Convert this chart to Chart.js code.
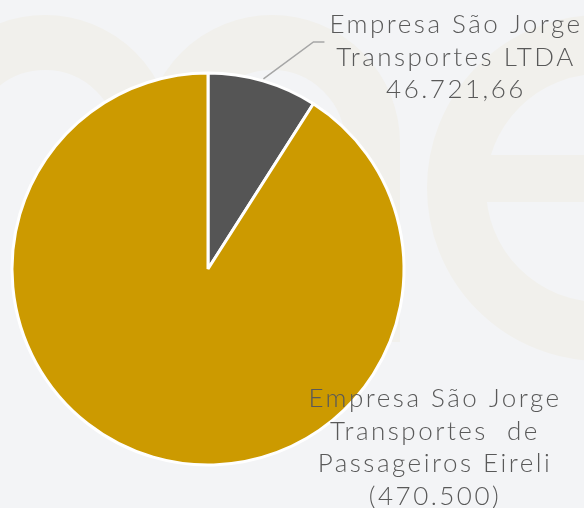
<!DOCTYPE html>
<html>
<head>
<meta charset="utf-8">
<script src="https://cdn.jsdelivr.net/npm/chart.js@4"></script>
<style>
  html, body { margin: 0; padding: 0; background: #f3f4f6; }
  #wrap { width: 584px; height: 508px; position: relative; }
</style>
</head>
<body>
<div id="wrap"><canvas id="c" width="584" height="508"></canvas></div>
<script>
// ---- data ----
const categories = [
  ["Empresa São Jorge", "Transportes LTDA"],
  ["Empresa São Jorge", "Transportes  de", "Passageiros Eireli"]
];
const values = [46721.66, 470500];
const valueLabels = ["46.721,66", "(470.500)"];
const sliceColors = ["#555555", "#cc9a00"];

// ---- background with faint watermark letters ("me") ----
const backgroundPlugin = {
  id: 'bg',
  beforeDraw(chart) {
    const ctx = chart.ctx;
    ctx.save();
    ctx.fillStyle = '#f3f4f6';
    ctx.fillRect(0, 0, chart.width, chart.height);
    const wm = '#f1f0ec';
    ctx.strokeStyle = wm;
    ctx.fillStyle = wm;
    ctx.lineWidth = 55;
    // "m": two arches with stems
    [45, 272].forEach(x => {
      ctx.beginPath();
      ctx.arc(x, 143, 100.5, Math.PI, Math.PI * 2);
      ctx.stroke();
      ctx.fillRect(x - 128, 143, 55, 199);
      ctx.fillRect(x + 73, 143, 55, 199);
    });
    // "e": ring with bar
    ctx.lineWidth = 59;
    ctx.beginPath();
    ctx.arc(600, 188, 143.5, 0, Math.PI * 2);
    ctx.stroke();
    ctx.fillRect(486, 155, 120, 47);
    ctx.restore();
  }
};

// ---- outside labels ----
const labelPlugin = {
  id: 'outLabels',
  afterDatasetsDraw(chart) {
    const ctx = chart.ctx;
    const meta = chart.getDatasetMeta(0);
    const a0 = meta.data[0];
    const cx = a0.x, cy = a0.y, r = a0.outerRadius;
    ctx.save();
    // leader line for small slice
    const mid = (a0.startAngle + a0.endAngle) / 2;
    const sx = cx + Math.cos(mid) * (r + 2);
    const sy = cy + Math.sin(mid) * (r + 2);
    ctx.strokeStyle = '#a6a6a6';
    ctx.lineWidth = 1.5;
    ctx.beginPath();
    ctx.moveTo(sx, sy);
    ctx.lineTo(sx + 50, sy - 37);
    ctx.lineTo(sx + 61, sy - 37);
    ctx.stroke();

    ctx.fillStyle = '#595959';
    ctx.font = '300 26px Lato, "Noto Sans", sans-serif';
    ctx.letterSpacing = '2.5px';
    ctx.textAlign = 'center';
    ctx.textBaseline = 'alphabetic';
    const lh = 32.5;
    const l1 = categories[0].concat([valueLabels[0]]);
    l1.forEach((t, i) => ctx.fillText(t, 456, 33 + i * lh));
    const l2 = categories[1].concat([valueLabels[1]]);
    l2.forEach((t, i) => ctx.fillText(t, 435, 407 + i * lh));
    ctx.restore();
  }
};

new Chart(document.getElementById('c'), {
  type: 'pie',
  data: {
    labels: categories.map(c => c.join(' ')),
    datasets: [{
      data: values,
      backgroundColor: sliceColors,
      borderColor: '#ffffff',
      borderWidth: 3,
      radius: 196
    }]
  },
  options: {
    responsive: false,
    animation: false,
    layout: { padding: { left: 0, right: 168, top: 40, bottom: 10 } },
    plugins: {
      legend: { display: false },
      tooltip: { enabled: false }
    }
  },
  plugins: [backgroundPlugin, labelPlugin]
});
</script>
</body>
</html>
